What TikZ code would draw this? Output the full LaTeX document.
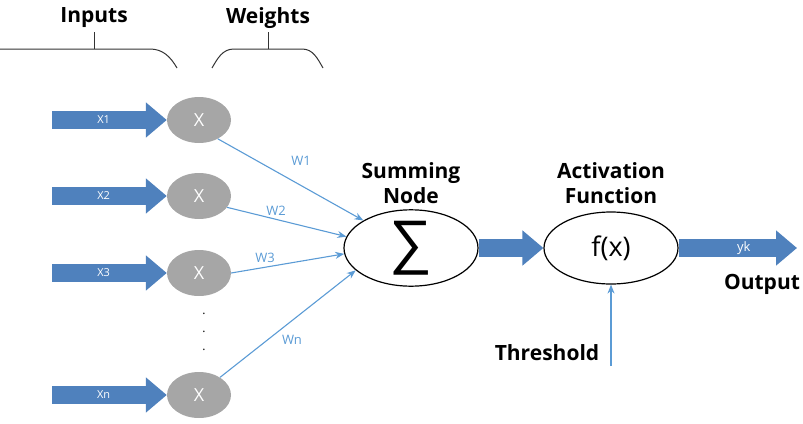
\documentclass[tikz,border=0pt]{standalone}
\usepackage{fontspec}
\setmainfont{Open Sans}
\newfontfamily\sigmafont{Liberation Sans}
\usetikzlibrary{arrows.meta,shapes.geometric}
\definecolor{nnblue}{RGB}{79,129,189}
\definecolor{lineblue}{RGB}{91,155,213}
\definecolor{nngray}{RGB}{166,166,166}
\tikzset{
  mult/.style={ellipse,fill=nngray,minimum width=64pt,minimum height=46pt,inner sep=0pt,text=white,font=\fontsize{18}{18}\selectfont},
  bignode/.style={ellipse,draw=black,line width=1.2pt,fill=white,minimum width=134pt,minimum height=72pt,inner sep=0pt},
  blockarrow/.style={draw=nnblue,line width=18pt,-{Triangle[length=21pt,width=34pt]}},
  warrow/.style={draw=lineblue,line width=1.1pt,-{Stealth[length=9pt,width=7pt]}},
  inlab/.style={text=white,font=\fontsize{11}{11}\selectfont},
  wlab/.style={text=lineblue,font=\fontsize{13}{13}\selectfont},
  head/.style={font=\bfseries\fontsize{21}{25}\selectfont,align=center},
  brace/.style={draw=black!80,line width=1pt}
}
\begin{document}
\begin{tikzpicture}[x=1pt,y=-1pt]
\useasboundingbox (0,0) rectangle (803,423);
% headings and braces
\node[head] (inputs) at (94,18) {Inputs};
\node[head] (weights) at (268,18) {Weights};
\draw[brace] (-5,49) -- (150,49) to[out=0,in=120] (177,68);
\draw[brace] (94,49) -- (94,32);
\draw[brace] (212,68) to[out=60,in=180] (234,49) -- (302,49) to[out=0,in=120] (323,68);
\draw[brace] (268,49) -- (268,32);
% multiplier nodes
\node[mult] (x1) at (199,120) {X};
\node[mult] (x2) at (199,196) {X};
\node[mult] (x3) at (199,273) {X};
\node[mult] (xn) at (199,395) {X};
% input arrow start points
\coordinate (s1) at (52,120);
\coordinate (s2) at (52,196);
\coordinate (s3) at (52,273);
\coordinate (sn) at (52,395);
\draw[blockarrow] (s1) -- (x1.west) node[inlab,pos=0.45] {X1};
\draw[blockarrow] (s2) -- (x2.west) node[inlab,pos=0.45] {X2};
\draw[blockarrow] (s3) -- (x3.west) node[inlab,pos=0.45] {X3};
\draw[blockarrow] (sn) -- (xn.west) node[inlab,pos=0.45] {Xn};
% dots
\node[font=\fontsize{12}{12}\selectfont] (d1) at (204,314) {.};
\node[font=\fontsize{12}{12}\selectfont] (d2) at (204,332) {.};
\node[font=\fontsize{12}{12}\selectfont] (d3) at (204,350) {.};
% summing and activation
\node[bignode] (sum) at (411,248) {\sigmafont\fontsize{60}{60}\selectfont ∑};
\node[bignode] (act) at (611,248) {\fontsize{27}{27}\selectfont f(x)};
\node[head] (sumlab) at (411,183) {Summing\\Node};
\node[head] (actlab) at (611,183) {Activation\\Function};
% weight connectors
\draw[warrow] (x1.-45) -- (sum.150);
\draw[warrow] (x2.-22) -- (sum.170);
\draw[warrow] (x3.0) -- (sum.185);
\draw[warrow] (xn.40) -- (sum.202);
\node[wlab] (w1) at (301,161) {W1};
\node[wlab] (w2) at (276,211) {W2};
\node[wlab] (w3) at (265,258) {W3};
\node[wlab] (wn) at (292,340) {Wn};
% sum to activation
\draw[blockarrow] (sum.east) -- (act.west);
% output
\coordinate (outend) at (797,248);
\draw[blockarrow] (act.east) -- (outend) node[inlab,pos=0.55,font=\fontsize{13}{13}\selectfont] {yk};
\node[head] (output) at (762,284) {Output};
% threshold
\coordinate (thr) at (611,366);
\draw[warrow] (thr) -- (act.south);
\node[head] (thrlab) at (547,353) {Threshold};
\end{tikzpicture}
\end{document}
